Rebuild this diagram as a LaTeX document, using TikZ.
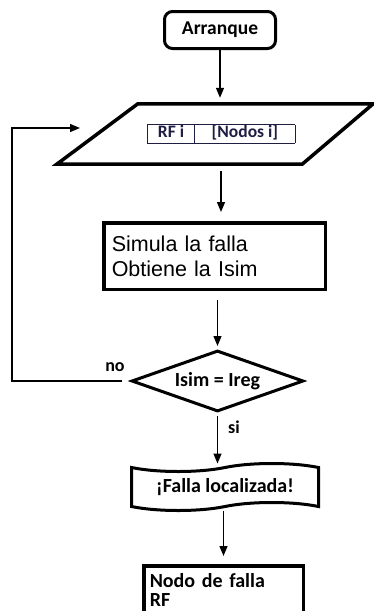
\documentclass[tikz,border=0pt]{standalone}
\usepackage{fontspec}
\setmainfont{Carlito}
\newfontfamily\arialfont{Liberation Sans}
\usetikzlibrary{shapes.geometric,shapes.symbols,arrows.meta}

\definecolor{azuloscuro}{RGB}{30,30,66}

\tikzset{
  flecha/.style={draw, line width=1.3pt, -{Triangle[length=10pt,width=8pt]}, shorten >=6pt},
  bloque/.style={draw, line width=3.5pt, rectangle},
  letra/.style={font=\fontsize{20}{19}\selectfont\bfseries},
}

\begin{document}
\begin{tikzpicture}[x=1pt,y=-1pt]
\useasboundingbox (0,0) rectangle (373,611);

% Arranque
\node[draw, line width=3pt, rounded corners=8pt, minimum width=111pt, minimum height=37pt,
      font=\fontsize{19.5}{20}\selectfont\bfseries] (start) at (220,30) {Arranque};

% Datos de entrada
\node[minimum width=240pt, minimum height=60pt, inner sep=0pt, text=azuloscuro,
      font=\fontsize{17.5}{18}\selectfont\bfseries] (inp) at (221,134)
  {\setlength{\arrayrulewidth}{0.8pt}%
   \begin{tabular}{|@{}c@{}|@{}c@{}|}\hline
   \rule[-5pt]{0pt}{16pt}\makebox[47pt]{RF i} & \makebox[100pt]{[Nodos i]}\\\hline
   \end{tabular}};
\draw[line width=3.5pt] ([xshift=37pt]inp.north west) -- ([xshift=32pt]inp.north east)
  -- ([xshift=-39pt]inp.south east) -- ([xshift=-44pt]inp.south west) -- cycle;

% Simulacion
\node[bloque, text width=205.5pt, align=left, minimum height=66.5pt, inner xsep=8pt,
      font=\arialfont\fontsize{21.5}{25}\selectfont] (sim) at (214.5,256)
  {Simula la falla\\Obtiene la Isim};

% Comparacion
\node[diamond, draw, line width=3pt, minimum width=172pt, minimum height=61pt, aspect=2.7,
      inner sep=0pt, letra] (dec) at (217.5,381) {Isim = Ireg};

% Resultado
\node[tape, draw, line width=3pt, minimum width=187pt, minimum height=47pt,
      tape bend height=8pt, letra] (fin) at (225,487) {¡Falla localizada!};

\node[bloque, text width=147.5pt, align=left, minimum height=48.5pt, inner xsep=6pt,
      letra] (out) at (223.5,590) {Nodo de falla\\RF};

% etiquetas
\node[font=\fontsize{18}{18}\selectfont\bfseries] (no) at (115,367) {no};
\node[font=\fontsize{18}{18}\selectfont\bfseries] (si) at (234,427) {si};

% flechas
\coordinate (lp) at (12,128);
\coordinate (lpend) at (80,128);
\draw[flecha] (start.south) -- (start.south |- inp.north);
\draw[flecha, shorten <=7pt, shorten >=9pt] (inp.south) -- (inp.south |- sim.north);
\draw[flecha, shorten <=9pt, shorten >=3pt] (dec.north |- sim.south) -- (dec.north);
\draw[flecha, shorten <=3pt, shorten >=3pt] (dec.south) -- (dec.south |- fin.north);
\draw[flecha, shorten <=3.5pt, shorten >=8pt] (out.north |- fin.south) -- (out.north);
\draw[flecha, shorten <=8pt, shorten >=0pt] (dec.west) -| (lp) -- (lpend);
\end{tikzpicture}
\end{document}
